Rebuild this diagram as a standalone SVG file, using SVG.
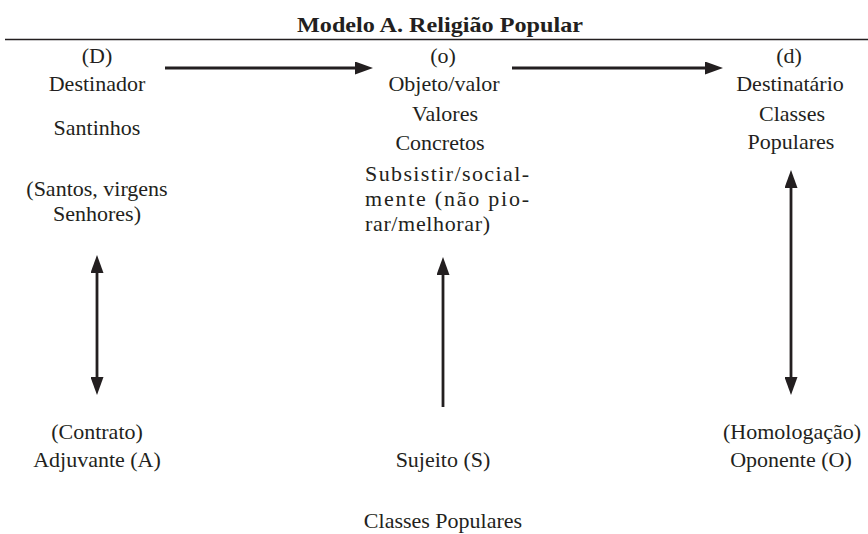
<svg xmlns="http://www.w3.org/2000/svg" width="868" height="534" viewBox="0 0 868 534">
  <defs>
    <style>
      text { font-family: "Liberation Serif", "DejaVu Serif", serif; font-size: 22px; fill: #231f20; text-anchor: middle; }
      .title { font-weight: bold; font-size: 22px; }
      .just { text-anchor: start; }
      .conn line { stroke: #231f20; stroke-width: 2.8; fill: none; }
      .rule { stroke: #231f20; stroke-width: 1.4; }
    </style>
    <!-- arrowhead: tip sits 12px beyond the line end -->
    <marker id="head" viewBox="0 0 18 13" refX="6" refY="6.5" markerWidth="18" markerHeight="13" markerUnits="userSpaceOnUse" orient="auto-start-reverse">
      <path d="M0,0 L18,6.5 L0,13 z" fill="#231f20"/>
    </marker>
  </defs>

  <rect width="868" height="534" fill="#ffffff"/>

  <!-- heading and rule -->
  <g id="heading">
    <text class="title" x="440" y="32" textLength="286" lengthAdjust="spacingAndGlyphs">Modelo A. Religião Popular</text>
    <line class="rule" x1="5" y1="39.5" x2="868" y2="39.5"/>
  </g>

  <!-- connectors -->
  <g id="connectors" class="conn">
    <line x1="165" y1="68" x2="361" y2="68" marker-end="url(#head)"/>
    <line x1="512" y1="68" x2="711" y2="68" marker-end="url(#head)"/>
    <line x1="97" y1="267" x2="97" y2="383" marker-start="url(#head)" marker-end="url(#head)"/>
    <line x1="443" y1="269" x2="443" y2="407" marker-start="url(#head)"/>
    <line x1="791" y1="182" x2="791" y2="383" marker-start="url(#head)" marker-end="url(#head)"/>
  </g>

  <!-- Destinador -->
  <g id="destinador">
    <text x="97" y="63">(D)</text>
    <text x="97" y="91">Destinador</text>
    <text x="97" y="135">Santinhos</text>
    <text x="97" y="196">(Santos, virgens</text>
    <text x="97" y="221">Senhores)</text>
  </g>

  <!-- Objeto -->
  <g id="objeto">
    <text x="443" y="63">(o)</text>
    <text x="444" y="91">Objeto/valor</text>
    <text x="445" y="121">Valores</text>
    <text x="440" y="150">Concretos</text>
    <text class="just" x="365" y="181" textLength="164" lengthAdjust="spacing">Subsistir/social-</text>
    <text class="just" x="365" y="206" textLength="164" lengthAdjust="spacing">mente (não pio-</text>
    <text class="just" x="365" y="231" textLength="125" lengthAdjust="spacing">rar/melhorar)</text>
  </g>

  <!-- Destinatário -->
  <g id="destinatario">
    <text x="789" y="63">(d)</text>
    <text x="790" y="91">Destinatário</text>
    <text x="792" y="121">Classes</text>
    <text x="791" y="149">Populares</text>
  </g>

  <!-- Adjuvante -->
  <g id="adjuvante">
    <text x="97" y="439">(Contrato)</text>
    <text x="97" y="467">Adjuvante (A)</text>
  </g>

  <!-- Sujeito -->
  <g id="sujeito">
    <text x="443" y="467">Sujeito (S)</text>
    <text x="443" y="528">Classes Populares</text>
  </g>

  <!-- Oponente -->
  <g id="oponente">
    <text x="792" y="439">(Homologação)</text>
    <text x="791" y="467">Oponente (O)</text>
  </g>
</svg>
